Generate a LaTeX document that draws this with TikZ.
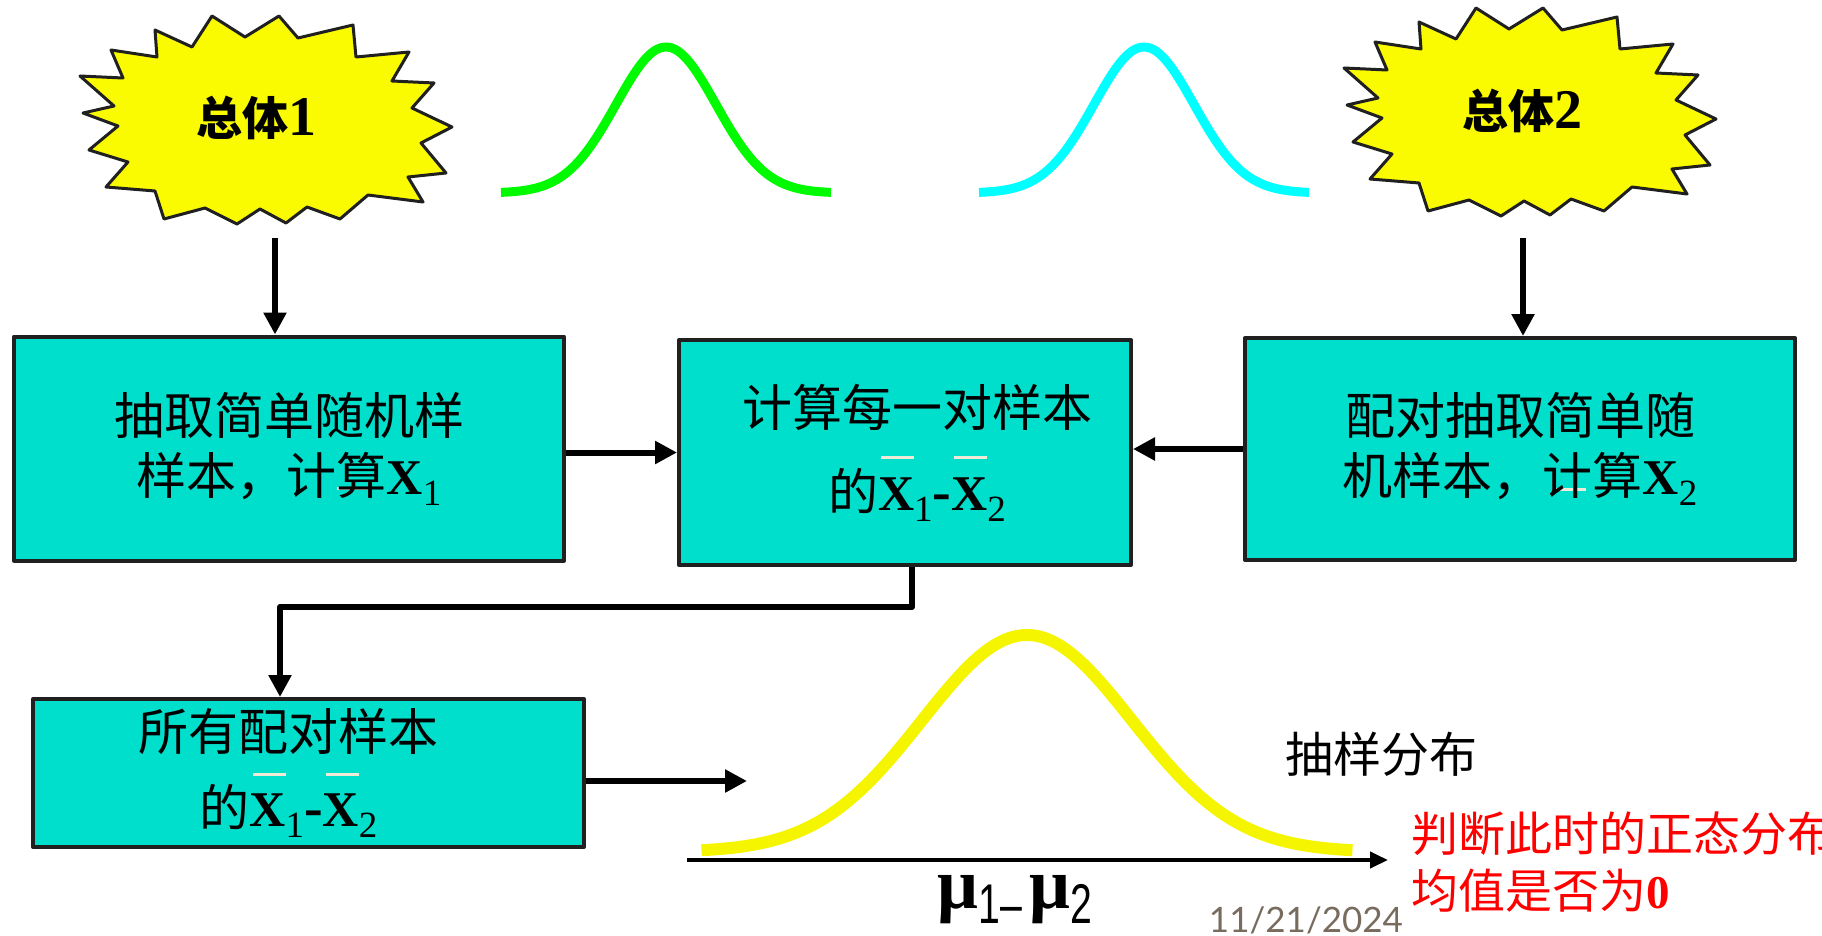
\documentclass[tikz,border=0pt]{standalone}
\usepackage{fontspec}
\usepackage{graphicx}
\setmainfont{Liberation Serif}
\newfontfamily\cjk{Noto Sans CJK SC}
\newfontfamily\datefont{Lato}
\newfontfamily\narrowsans{Liberation Sans}
\usetikzlibrary{arrows.meta}
\definecolor{boxfill}{RGB}{0,222,204}
\definecolor{boxline}{RGB}{32,32,32}
\definecolor{starfill}{RGB}{250,250,0}
\definecolor{curvegreen}{RGB}{0,250,0}
\definecolor{curvecyan}{RGB}{0,255,255}
\definecolor{curveyellow}{RGB}{245,245,0}
\definecolor{barcream}{RGB}{240,235,215}
\definecolor{dategray}{RGB}{120,108,95}
\newcommand\Xsub[1]{\textrm{\bfseries X}\raisebox{-11pt}{\rmfamily\fontsize{37}{37}\selectfont #1}}
\newcommand\Xbar[1]{\rlap{\kern3pt\textcolor{barcream}{\rule[51pt]{33pt}{3pt}}}\Xsub{#1}}
\newcommand\lowbar[1][0pt]{\rlap{\kern#1\textcolor{barcream}{\rule[4pt]{32pt}{3pt}}}}
\newcommand\dash{\textrm{\bfseries\fontsize{56}{56}\selectfont -}}
\tikzset{
  box/.style={draw=boxline, fill=boxfill, line width=4pt, inner sep=0pt, align=center,
    font=\cjk\fontsize{50}{60}\selectfont},
  arr/.style={line width=6pt, line cap=butt, -{Triangle[length=22pt,width=22pt]}},
  bell/.style={draw=#1, line width=9pt, line cap=butt},
  burst/.pic={\draw[line width=3pt, draw=boxline, fill=starfill]
    (212,16) -- (245,37) -- (279,16) -- (298,38) -- (353,25) -- (356,57) -- (409,52)
    -- (392,81) -- (434,83) -- (412,108) -- (452,127) -- (421,143) -- (446,173)
    -- (408,177) -- (423,202) -- (368,195) -- (340,219) -- (307,207) -- (286,223)
    -- (260,209) -- (237,224) -- (205,208) -- (164,219) -- (155,191) -- (106,187)
    -- (128,162) -- (89,150) -- (118,126) -- (83,113) -- (114,106) -- (80,76)
    -- (123,78) -- (111,50) -- (157,57) -- (155,30) -- (192,47) -- cycle;}
}
\begin{document}
\begin{tikzpicture}[x=1pt,y=-1pt,line join=round,line cap=round]
  \useasboundingbox (0,0) rectangle (1822,936);
  % populations
  \pic at (0,0) {burst};
  \pic at (1264,-8) {burst};
  \node[font=\cjk\bfseries\fontsize{46}{46}\selectfont] (pop1) at (256,118) {总体\textrm{\bfseries\fontsize{56}{56}\selectfont 1}};
  \node[font=\cjk\bfseries\fontsize{46}{46}\selectfont] (pop2) at (1522,111) {总体\textrm{\bfseries\fontsize{56}{56}\selectfont 2}};
  \foreach \cx/\col in {666/curvegreen,1144/curvecyan}
    \draw[bell=\col] plot[domain=-3.3:3.3,samples=90,smooth] ({\cx+50*\x},{193-146*exp(-\x*\x/2)});
  % boxes
  \node[box, minimum width=550, minimum height=224] (box1) at (289,448.5)
    {抽取简单随机样\\样本，计\lowbar 算\Xsub{1}};
  \node[box, minimum width=452, minimum height=225] (box2) at (905,452.5)
    {\hspace*{24pt}计算每一对样本\\[24pt]\hspace*{24pt}的\Xbar{1}\dash\Xbar{2}};
  \node[box, minimum width=550, minimum height=222] (box3) at (1520,449)
    {配对抽取简单随\\机样本，\lowbar[11pt]计算\Xsub{2}};
  \node[box, minimum width=551, minimum height=148] (box4) at (308.5,773)
    {所有配对样本\hspace*{40pt}\\[16pt]的\Xbar{1}\dash\Xbar{2}\hspace*{40pt}};
  % connectors
  \coordinate (s1) at (275,238);
  \coordinate (s2) at (1523,238);
  \coordinate (drop) at (912,607);
  \coordinate (turn) at (280,607);
  \coordinate (out) at (747,781);
  \draw[arr] (s1) -- (s1 |- box1.north);
  \draw[arr] (s2) -- (s2 |- box3.north);
  \draw[arr] (box2.west -| box1.east) -- (box2.west);
  \draw[arr] (box3.west) -- (box3.west -| box2.east);
  \draw[arr] (drop |- box2.south) -- (drop) -- (turn) -- (turn |- box4.north);
  \draw[arr] (out -| box4.east) -- (out);
  % sampling distribution
  \draw[bell=curveyellow, line width=12pt] plot[domain=-3.1:3.1,samples=90,smooth] ({1027+105*\x},{852-217*exp(-\x*\x/2)});
  \coordinate (ax0) at (687,860);
  \coordinate (ax1) at (1388,860);
  \draw[line width=4pt, line cap=butt, -{Triangle[length=18pt,width=16pt]}] (ax0) -- (ax1);
  \node (mu) at (1015,900) {{\bfseries\fontsize{72}{72}\selectfont μ}\raisebox{-15pt}{\scalebox{0.7}[1]{\narrowsans\fontsize{56}{56}\selectfont 1–}}\hspace{8pt}{\bfseries\fontsize{72}{72}\selectfont μ}\raisebox{-15pt}{\scalebox{0.7}[1]{\narrowsans\fontsize{56}{56}\selectfont 2}}};
  \node[font=\cjk\fontsize{48}{48}\selectfont] (dist) at (1381,754) {抽样分布};
  \node[font=\cjk\fontsize{47}{57}\selectfont, text=red, align=left, anchor=west] (ask) at (1408,862)
    {判断此时的正态分布\\均值是否为\textrm{\bfseries 0}};
  \node[font=\datefont\fontsize{35}{35}\selectfont, text=dategray] (date) at (1306,920) {11/21/2024};
\end{tikzpicture}
\end{document}
